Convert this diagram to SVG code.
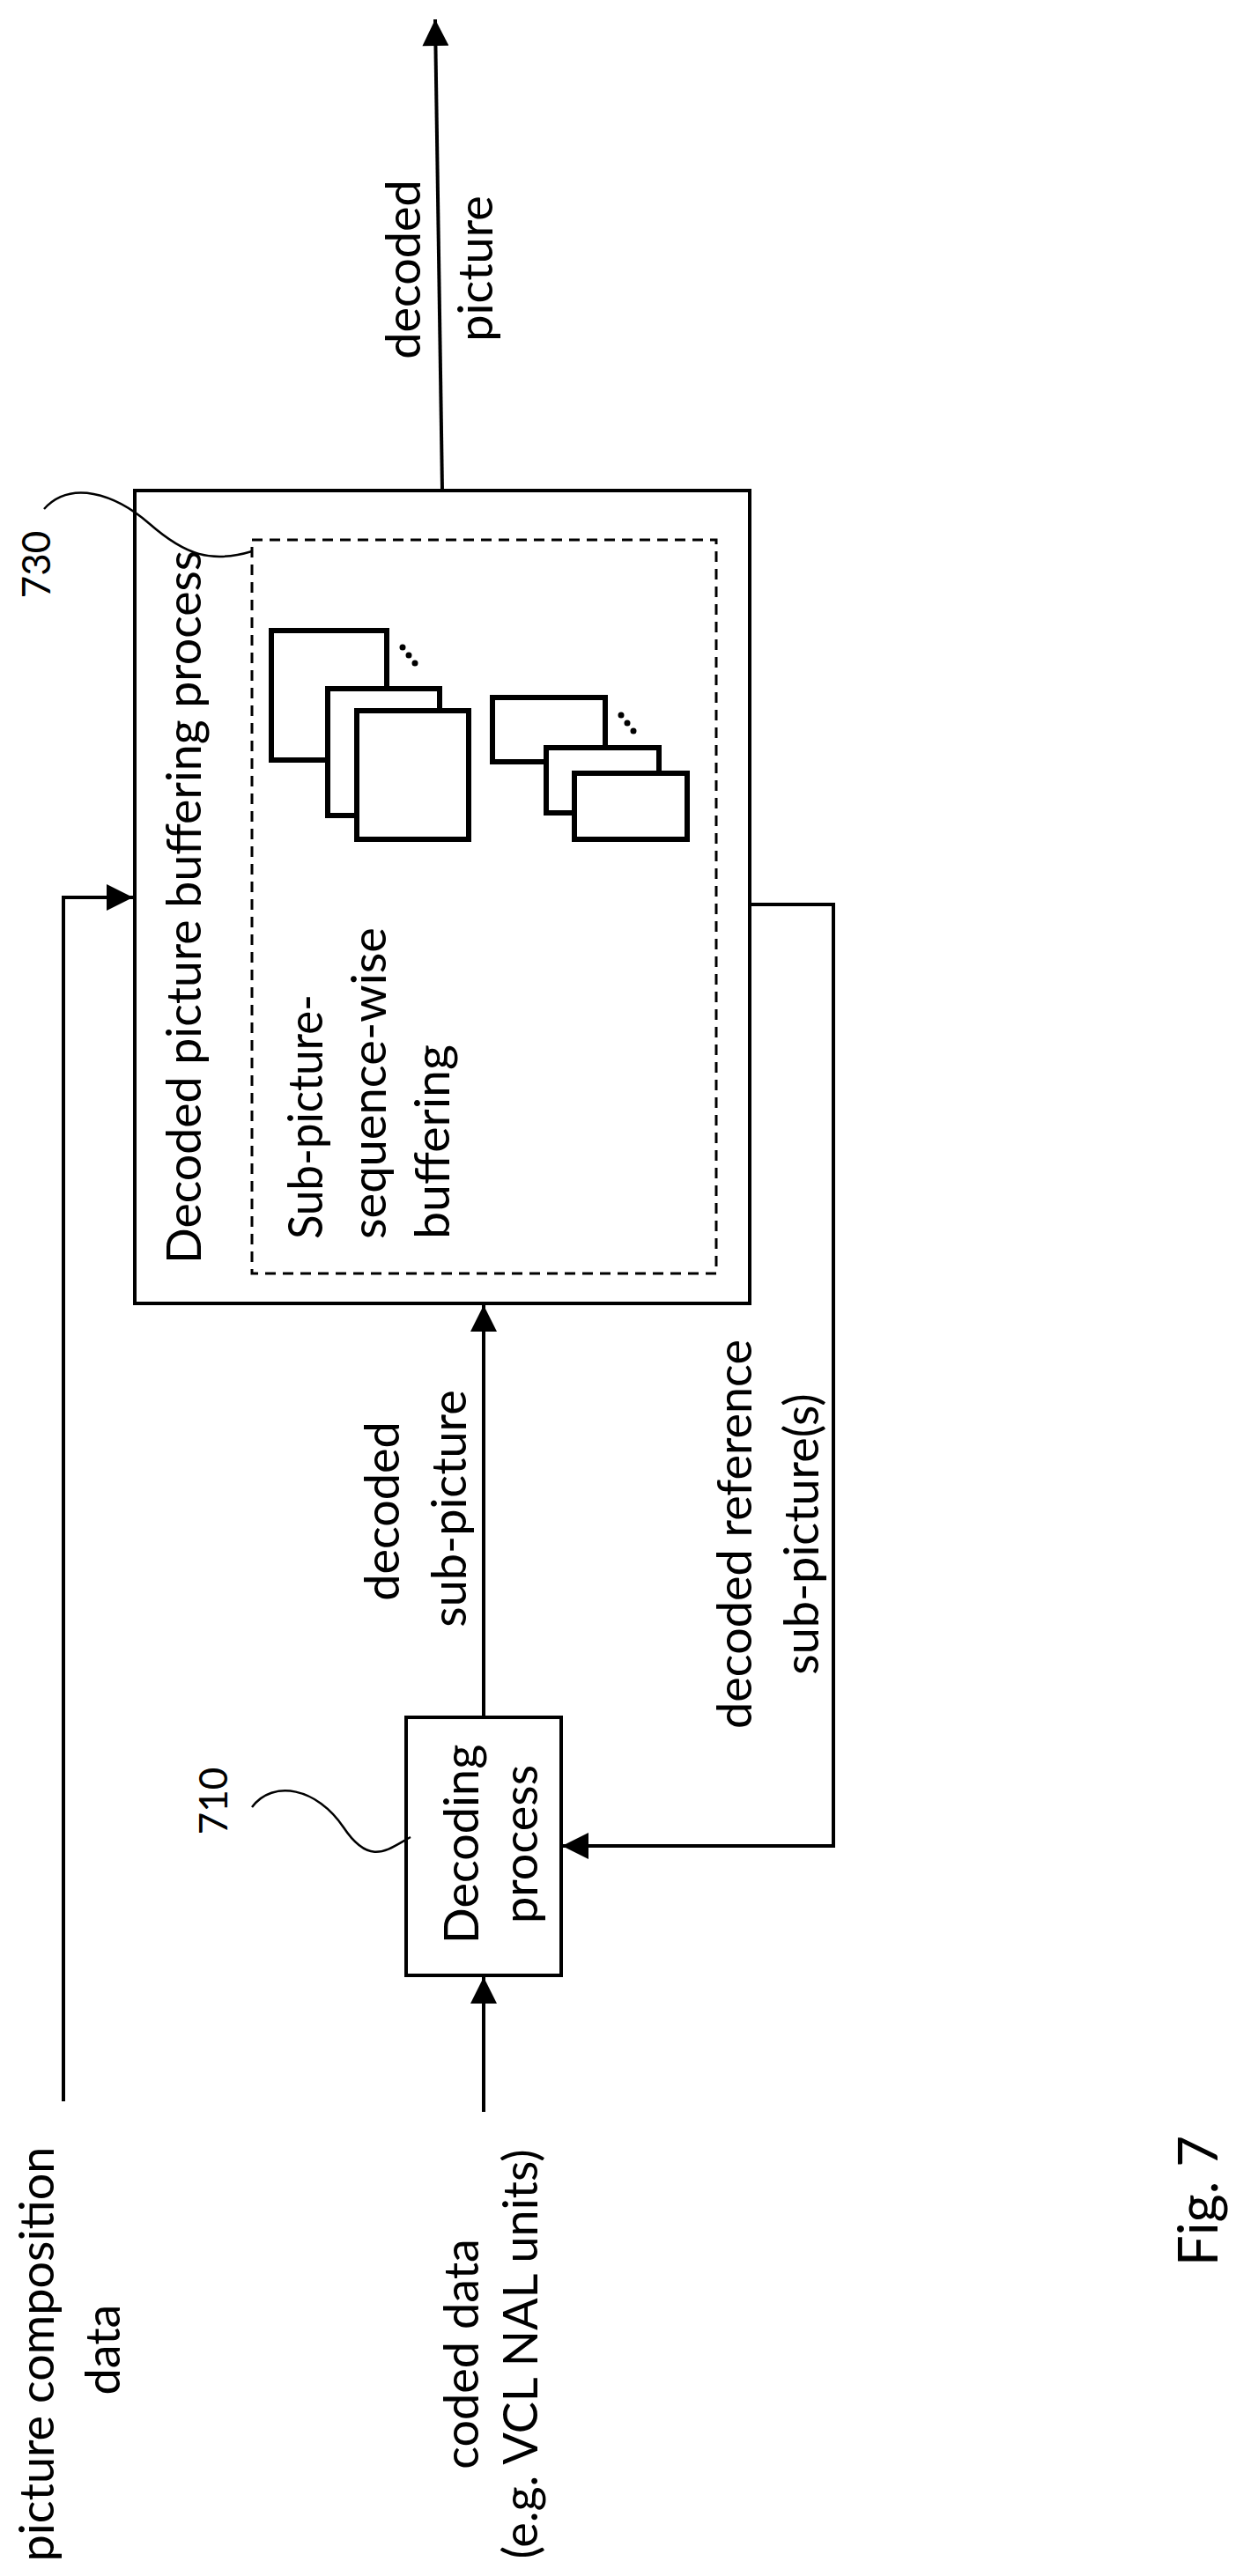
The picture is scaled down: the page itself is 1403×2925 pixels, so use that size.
<svg xmlns="http://www.w3.org/2000/svg" width="1403" height="2925" viewBox="0 0 1403 2925">
<style>
text{font-family:Lato,"Open Sans","Liberation Sans",sans-serif;font-size:54px;fill:#000;text-anchor:middle;dominant-baseline:central}
.box{fill:#fff;stroke:#000;stroke-width:4}
.dash{fill:none;stroke:#000;stroke-width:3;stroke-dasharray:12 8}
.thick{fill:#fff;stroke:#000;stroke-width:6}
.ln{fill:none;stroke:#000;stroke-width:4}
.cv{fill:none;stroke:#000;stroke-width:2.5}
</style>
<defs><marker id="ah" viewBox="0 0 10 10" refX="9" refY="5" markerWidth="8" markerHeight="8" markerUnits="userSpaceOnUse" orient="auto"><path d="M0,0 L10,5 L0,10 z" fill="#000"/></marker>
<marker id="a" viewBox="0 0 10 10" refX="10" refY="5" markerWidth="34" markerHeight="30" markerUnits="userSpaceOnUse" orient="auto"><path d="M0,0 L10,5 L0,10 z" fill="#000"/></marker></defs>
<g id="connectors">
<path class="ln" d="M502 557 L494 22" marker-end="url(#a)"/>
<path class="ln" d="M72 2386 L72 1019 L151 1019" marker-end="url(#a)"/>
<path class="ln" d="M813 1027 L946 1027 L946 2096 L638 2096" marker-end="url(#a)"/>
<path class="ln" d="M549 1950 L549 1482" marker-end="url(#a)"/>
<path class="ln" d="M549 2398 L549 2245" marker-end="url(#a)"/>
</g>
<g id="dpb730">
<rect class="box" x="153" y="557" width="698" height="923"/>
<rect class="dash" x="286" y="613" width="527" height="833"/>
<text transform="translate(207,1030) rotate(-90)" textLength="810" lengthAdjust="spacingAndGlyphs">Decoded picture buffering process</text>
<text transform="translate(345,1407) rotate(-90)" style="text-anchor:start" textLength="278" lengthAdjust="spacingAndGlyphs">Sub-picture-</text>
<text transform="translate(417,1407) rotate(-90)" style="text-anchor:start" textLength="354" lengthAdjust="spacingAndGlyphs">sequence-wise</text>
<text transform="translate(489,1407) rotate(-90)" style="text-anchor:start" textLength="221" lengthAdjust="spacingAndGlyphs">buffering</text>
<rect class="thick" x="308" y="716" width="131" height="147"/>
<rect class="thick" x="372" y="782" width="127" height="144"/>
<rect class="thick" x="405" y="807" width="127" height="146"/>
<rect class="thick" x="559" y="792" width="128" height="73"/>
<rect class="thick" x="620" y="849" width="128" height="74"/>
<rect class="thick" x="652" y="878" width="128" height="75"/>
<g fill="#000"><circle cx="457" cy="735" r="3.5"/><circle cx="464" cy="744" r="3.5"/><circle cx="471" cy="753" r="3.5"/>
<circle cx="705" cy="812" r="3.5"/><circle cx="712" cy="821" r="3.5"/><circle cx="719" cy="830" r="3.5"/></g>
</g>
<g id="label730">
<text transform="translate(40,641) rotate(-90)" style="font-size:44px">730</text>
<path class="cv" d="M50 578 C 80 545, 130 560, 170 595 S 240 640, 286 626"/>
</g>
<g id="dec710">
<rect class="box" x="461" y="1950" width="176" height="293"/>
<text transform="translate(522,2094) rotate(-90)">Decoding</text>
<text transform="translate(589,2094) rotate(-90)">process</text>
</g>
<g id="label710">
<text transform="translate(241,2045) rotate(-90)" style="font-size:44px">710</text>
<path class="cv" d="M286 2052 C 310 2020, 360 2030, 390 2075 S 440 2100, 466 2086"/>
</g>
<g id="labels">
<text transform="translate(456,306) rotate(-90)">decoded</text>
<text transform="translate(538,305) rotate(-90)">picture</text>
<text transform="translate(432,1716) rotate(-90)">decoded</text>
<text transform="translate(508,1713) rotate(-90)">sub-picture</text>
<text transform="translate(832,1742) rotate(-90)">decoded reference</text>
<text transform="translate(908,1742) rotate(-90)">sub-picture(s)</text>
<text transform="translate(40,2673) rotate(-90)">picture composition</text>
<text transform="translate(115,2668) rotate(-90)">data</text>
<text transform="translate(522,2673) rotate(-90)">coded data</text>
<text transform="translate(589,2673) rotate(-90)">(e.g. VCL NAL units)</text>
<text transform="translate(1358,2499) rotate(-90)" style="font-size:62px">Fig. 7</text>
</g>
</svg>
